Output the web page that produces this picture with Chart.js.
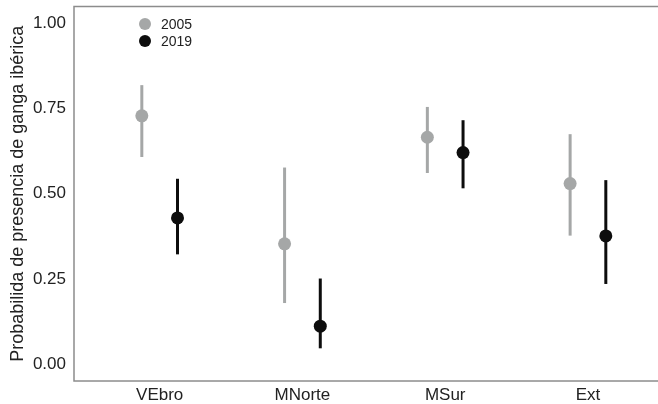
<!DOCTYPE html>
<html lang="es">
<head>
    <meta charset="UTF-8">
    <script src="https://cdn.jsdelivr.net/npm/chart.js"></script>
    <title>Probabilidad de presencia de ganga ibérica</title>
    <style>
        html, body {
            margin: 0;
            padding: 0;
            background: #fff;
            overflow: hidden;
        }
        canvas { display: block; }
    </style>
</head>
<body>
<!-- el lienzo es algo más ancho que la ventana: el panel queda abierto por la derecha -->
<canvas id="gangaChart" width="663" height="404"></canvas>

<script>
    // Regiones y estimas por año (media e intervalo)
    const regiones = ['VEbro', 'MNorte', 'MSur', 'Ext'];
    const prob2005 = [0.729, 0.353, 0.666, 0.530];
    const inf2005 = [0.608, 0.179, 0.561, 0.377];
    const sup2005 = [0.819, 0.577, 0.755, 0.675];
    const prob2019 = [0.429, 0.111, 0.621, 0.376];
    const inf2019 = [0.322, 0.046, 0.516, 0.235];
    const sup2019 = [0.544, 0.251, 0.716, 0.540];
    const yTicks = [0, 0.25, 0.5, 0.75, 1];

    const GRIS = '#a5a7a7';
    const NEGRO = '#0d0d0d';
    const DODGE = 0.125;
    const FONT = '"Liberation Sans", Arial, sans-serif';

    function puntos(vals, lado) {
        return vals.map((v, i) => ({ x: i + 1 + lado * DODGE, y: v }));
    }

    // barras de error verticales, debajo de los puntos
    const errorBars = {
        id: 'errorBars',
        beforeDatasetsDraw(chart) {
            const { ctx, scales: { y } } = chart;
            chart.data.datasets.forEach((ds, di) => {
                const meta = chart.getDatasetMeta(di);
                ctx.save();
                ctx.strokeStyle = ds.borderColor;
                ctx.lineWidth = 3;
                meta.data.forEach((pt, i) => {
                    ctx.beginPath();
                    ctx.moveTo(pt.x, y.getPixelForValue(ds.inf[i]));
                    ctx.lineTo(pt.x, y.getPixelForValue(ds.sup[i]));
                    ctx.stroke();
                });
                ctx.restore();
            });
        }
    };

    // marco del panel
    const panelBorder = {
        id: 'panelBorder',
        afterDraw(chart) {
            const { ctx, chartArea: a } = chart;
            ctx.save();
            ctx.strokeStyle = '#8c8c8c';
            ctx.lineWidth = 1.5;
            ctx.strokeRect(a.left, a.top, chart.width + 10, a.bottom - a.top);
            ctx.restore();
        }
    };

    // leyenda dentro del panel, arriba a la izquierda
    const leyenda = {
        id: 'leyenda',
        afterDraw(chart) {
            const { ctx } = chart;
            ctx.save();
            ctx.font = '14px ' + FONT;
            ctx.textBaseline = 'middle';
            chart.data.datasets.forEach((ds, i) => {
                const cy = 24 + i * 17;
                ctx.fillStyle = ds.backgroundColor;
                ctx.beginPath();
                ctx.arc(145, cy, 6, 0, Math.PI * 2);
                ctx.fill();
                ctx.fillStyle = '#222';
                ctx.fillText(ds.label, 161, cy + 1);
            });
            ctx.restore();
        }
    };

    new Chart(document.getElementById('gangaChart'), {
        type: 'scatter',
        data: {
            datasets: [
                {
                    label: '2005',
                    data: puntos(prob2005, -1),
                    inf: inf2005,
                    sup: sup2005,
                    backgroundColor: GRIS,
                    borderColor: GRIS,
                    pointRadius: 6.5,
                    borderWidth: 0
                },
                {
                    label: '2019',
                    data: puntos(prob2019, 1),
                    inf: inf2019,
                    sup: sup2019,
                    backgroundColor: NEGRO,
                    borderColor: NEGRO,
                    pointRadius: 6.5,
                    borderWidth: 0
                }
            ]
        },
        options: {
            responsive: false,
            animation: false,
            layout: { padding: { top: 5, right: 0, left: 0, bottom: 0 } },
            plugins: {
                legend: { display: false },
                tooltip: { enabled: false }
            },
            scales: {
                x: {
                    type: 'linear',
                    min: 0.4,
                    max: 4.48,
                    afterBuildTicks: s => { s.ticks = regiones.map((_, i) => ({ value: i + 1 })); },
                    afterFit: s => {
                        s.height = 23;
                        s.paddingLeft = 0;
                        s.paddingRight = 0;
                    },
                    grid: { display: false, drawTicks: false },
                    border: { display: false },
                    ticks: {
                        padding: 4,
                        color: '#222',
                        font: { family: FONT, size: 17 },
                        callback: v => regiones[v - 1] || ''
                    }
                },
                y: {
                    min: -0.05,
                    max: 1.05,
                    afterBuildTicks: s => { s.ticks = yTicks.map(v => ({ value: v })); },
                    afterFit: s => {
                        s.width = 74;
                        s.paddingTop = 0;
                        s.paddingBottom = 0;
                    },
                    grid: { display: false, drawTicks: false },
                    border: { display: false },
                    ticks: {
                        padding: 8,
                        color: '#222',
                        font: { family: FONT, size: 17 },
                        callback: v => v.toFixed(2)
                    },
                    title: {
                        display: true,
                        text: 'Probabilida de presencia de ganga ibérica',
                        color: '#222',
                        font: { family: FONT, size: 18 },
                        padding: { top: 7, bottom: 0 }
                    }
                }
            }
        },
        plugins: [errorBars, panelBorder, leyenda]
    });
</script>
</body>
</html>
